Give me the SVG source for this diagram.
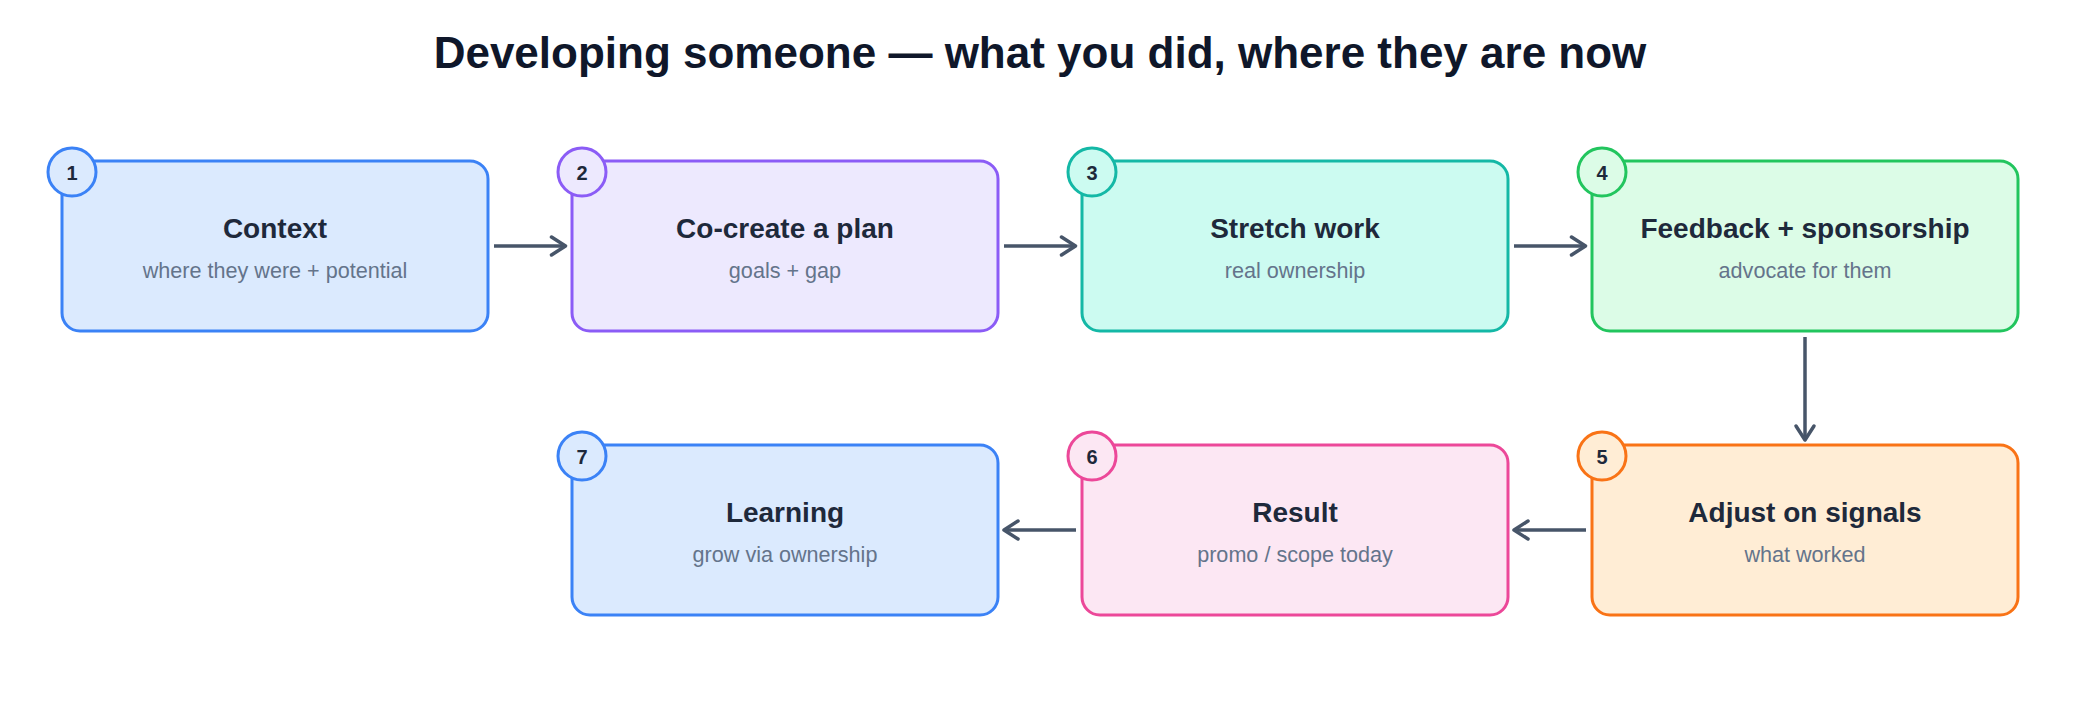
<svg xmlns="http://www.w3.org/2000/svg" width="2080" height="704" viewBox="0 0 2080 704">
<style>
.bg{fill:#ffffff}
.title{font-family:"Liberation Sans",Arial,sans-serif;font-weight:700;font-size:44px;fill:#0f172a;text-anchor:middle}
.box{stroke-width:3}
.nt{font-family:"Liberation Sans",Arial,sans-serif;font-weight:700;font-size:28px;fill:#1e293b;text-anchor:middle}
.ns{font-family:"Liberation Sans",Arial,sans-serif;font-size:21.6px;fill:#64748b;text-anchor:middle}
.bn{font-family:"Liberation Sans",Arial,sans-serif;font-weight:700;font-size:20px;fill:#1e293b;text-anchor:middle}
.blue rect,.blue circle{fill:#dbeafe;stroke:#3b82f6}
.purple rect,.purple circle{fill:#ede9fe;stroke:#8b5cf6}
.teal rect,.teal circle{fill:#ccfbf1;stroke:#14b8a6}
.green rect,.green circle{fill:#dcfce7;stroke:#22c55e}
.orange rect,.orange circle{fill:#ffedd5;stroke:#f97316}
.pink rect,.pink circle{fill:#fce7f3;stroke:#ec4899}
.edge{stroke:#475569;stroke-width:3.5;fill:none;marker-end:url(#arr)}
</style>
<defs>
<marker id="arr" markerUnits="userSpaceOnUse" markerWidth="24" markerHeight="24" viewBox="0 0 24 24" refX="17" refY="12" orient="auto">
<path d="M3,3 L17,12 L3,21" fill="none" stroke="#475569" stroke-width="3.5" stroke-linecap="round" stroke-linejoin="round"/>
</marker>
</defs>
<rect class="bg" x="0" y="0" width="2080" height="704"/>
<text class="title" x="1040" y="68">Developing someone — what you did, where they are now</text>

<g id="connectors">
<path class="edge" d="M494,246 L565.5,246"/>
<path class="edge" d="M1004,246 L1075.5,246"/>
<path class="edge" d="M1514,246 L1585.5,246"/>
<path class="edge" d="M1805,337 L1805,440"/>
<path class="edge" d="M1586,530 L1514,530"/>
<path class="edge" d="M1076,530 L1004,530"/>
</g>

<g id="node1" class="blue">
<rect class="box" x="62" y="161" width="426" height="170" rx="18"/>
<text class="nt" x="275" y="238">Context</text>
<text class="ns" x="275" y="278">where they were + potential</text>
<circle class="box" cx="72" cy="172" r="24"/>
<text class="bn" x="72" y="179.5">1</text>
</g>

<g id="node2" class="purple">
<rect class="box" x="572" y="161" width="426" height="170" rx="18"/>
<text class="nt" x="785" y="238">Co-create a plan</text>
<text class="ns" x="785" y="278">goals + gap</text>
<circle class="box" cx="582" cy="172" r="24"/>
<text class="bn" x="582" y="179.5">2</text>
</g>

<g id="node3" class="teal">
<rect class="box" x="1082" y="161" width="426" height="170" rx="18"/>
<text class="nt" x="1295" y="238">Stretch work</text>
<text class="ns" x="1295" y="278">real ownership</text>
<circle class="box" cx="1092" cy="172" r="24"/>
<text class="bn" x="1092" y="179.5">3</text>
</g>

<g id="node4" class="green">
<rect class="box" x="1592" y="161" width="426" height="170" rx="18"/>
<text class="nt" x="1805" y="238">Feedback + sponsorship</text>
<text class="ns" x="1805" y="278">advocate for them</text>
<circle class="box" cx="1602" cy="172" r="24"/>
<text class="bn" x="1602" y="179.5">4</text>
</g>

<g id="node5" class="orange">
<rect class="box" x="1592" y="445" width="426" height="170" rx="18"/>
<text class="nt" x="1805" y="522">Adjust on signals</text>
<text class="ns" x="1805" y="562">what worked</text>
<circle class="box" cx="1602" cy="456" r="24"/>
<text class="bn" x="1602" y="463.5">5</text>
</g>

<g id="node6" class="pink">
<rect class="box" x="1082" y="445" width="426" height="170" rx="18"/>
<text class="nt" x="1295" y="522">Result</text>
<text class="ns" x="1295" y="562">promo / scope today</text>
<circle class="box" cx="1092" cy="456" r="24"/>
<text class="bn" x="1092" y="463.5">6</text>
</g>

<g id="node7" class="blue">
<rect class="box" x="572" y="445" width="426" height="170" rx="18"/>
<text class="nt" x="785" y="522">Learning</text>
<text class="ns" x="785" y="562">grow via ownership</text>
<circle class="box" cx="582" cy="456" r="24"/>
<text class="bn" x="582" y="463.5">7</text>
</g>
</svg>
